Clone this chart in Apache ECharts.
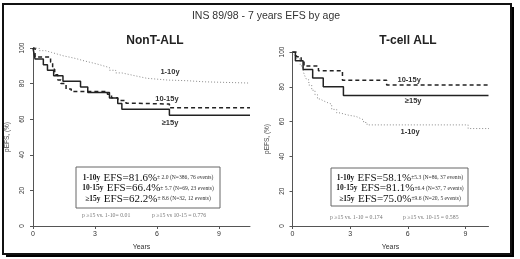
<!DOCTYPE html>
<html><head><meta charset="utf-8">
<script src="https://cdn.jsdelivr.net/npm/echarts@6/dist/echarts.min.js"></script>
<style>html,body{margin:0;padding:0;background:#fff}#c{width:520px;height:259px}</style>
</head><body><div id="c"></div>
<script>
// ---------- data ----------
const xTicks = [0, 3, 6, 9];
const yTicks = [0, 20, 40, 60, 80, 100];
const groups = ['1-10y', '10-15y', '≥15y'];

// NonT-ALL
const nonT_1_10_t = [0, 0.3, 0.6, 0.9, 1.2, 1.5, 1.8, 2.1, 2.4, 2.75, 3.1, 3.4, 3.7, 4.0, 4.3, 4.7, 5.1, 5.5, 6.0, 6.5, 7.5, 8.3, 10.5];
const nonT_1_10_v = [100, 98.5, 97.5, 96.5, 95.5, 94.8, 94, 93, 92, 91, 90, 89, 87.5, 86, 85, 84, 83, 82.5, 82, 81.6, 81, 80.3, 80.3];
const nonT_10_15_t = [0, 0.1, 0.85, 0.95, 1.05, 1.2, 1.35, 1.6, 1.85, 3.6, 3.8, 4.1, 4.5, 4.8, 6.6, 10.5];
const nonT_10_15_v = [100, 95, 92, 88, 85, 82, 80, 77, 75.5, 74, 72, 70.5, 69, 68.5, 66.4, 66.4];
const nonT_15_t = [0, 0.05, 0.1, 0.5, 0.7, 1.0, 1.45, 2.3, 2.65, 3.7, 4.1, 4.3, 6.6, 10.5];
const nonT_15_v = [100, 96.9, 93.8, 90.6, 87.5, 84.4, 81.3, 78.1, 75.0, 71.9, 68.8, 65.6, 62.2, 62.2];

// T-cell ALL
const tc_1_10_t = [0, 0.1, 0.22, 0.4, 0.55, 0.65, 0.74, 0.85, 1.0, 1.17, 1.3, 1.43, 1.6, 1.8, 2.04, 2.3, 2.47, 2.8, 3.0, 3.3, 3.5, 3.7, 3.88, 9.14, 10.3];
const tc_1_10_v = [100, 98, 96, 92, 89, 86, 84, 81, 78, 75.5, 73, 72, 71, 70, 67, 65, 64, 63.5, 63, 62, 61, 59.5, 58.1, 56, 56];
const tc_10_15_t = [0, 0.2, 0.45, 0.6, 1.35, 2.6, 4.9, 10.2];
const tc_10_15_v = [100, 97.3, 94.6, 91.9, 89.2, 83.8, 81.1, 81.1];
const tc_15_t = [0, 0.15, 0.55, 1.05, 1.6, 2.65, 10.2];
const tc_15_v = [100, 95, 90, 85, 80, 75, 75];

const boxLeft = [
  ['1-10y', 'EFS=81.6%', '± 2.0 (N=386, 76 events)'],
  ['10-15y', 'EFS=66.4%', '± 5.7 (N=69, 23 events)'],
  ['≥15y', 'EFS=62.2%', '± 8.6 (N=32, 12 events)']
];
const boxRight = [
  ['1-10y', 'EFS=58.1%', '±5.3 (N=86, 37 events)'],
  ['10-15y', 'EFS=81.1%', '±6.4 (N=37, 7 events)'],
  ['≥15y', 'EFS=75.0%', '±9.6 (N=20, 5 events)']
];
const pLeft = ['p ≥15 vs. 1-10= 0.01', 'p ≥15 vs 10-15 = 0.776'];
const pRight = ['p ≥15 vs. 1-10 = 0.174', 'p ≥15 vs. 10-15 = 0.585'];

// ---------- chart ----------
const zip = (t, v) => t.map((x, i) => [x, v[i]]);
const SANS = '"Liberation Sans", Arial, sans-serif';
const SERIF = '"Liberation Serif", "Times New Roman", serif';

const styles = [
  {type: [1, 2], width: 1, color: '#8a8a8a'},
  {type: [4, 3], width: 1.5, color: '#222'},
  {type: 'solid', width: 1.5, color: '#222'}
];

function curve(gi, t, v, si, lab) {
  return {
    type: 'line', xAxisIndex: gi, yAxisIndex: gi, step: 'end', symbol: 'none',
    data: zip(t, v), lineStyle: styles[si], z: 3,
    markPoint: {
      symbol: 'rect', symbolSize: 1, itemStyle: {color: 'rgba(0,0,0,0)'},
      data: [{coord: lab, value: groups[si]}],
      label: {show: true, position: 'inside', formatter: groups[si], fontFamily: SANS,
        fontWeight: 'bold', fontSize: 7.5, color: '#333'}
    }
  };
}

function xAx(gi, max) {
  return {
    type: 'value', gridIndex: gi, min: 0, max: max, interval: 3,
    name: 'Years', nameLocation: 'middle', nameGap: 18,
    nameTextStyle: {fontFamily: SANS, fontSize: 7, color: '#333'},
    axisLine: {show: true, lineStyle: {color: '#555', width: 1}},
    axisTick: {show: true, length: 3, customValues: xTicks, lineStyle: {color: '#555'}},
    axisLabel: {customValues: xTicks, margin: 5, fontFamily: SANS, fontSize: 7, color: '#333'},
    splitLine: {show: false}
  };
}
function yAx(gi, gap) {
  return {
    type: 'value', gridIndex: gi, min: 0, max: 100, interval: 20,
    name: 'pEFS, (%)', nameLocation: 'middle', nameGap: gap,
    nameTextStyle: {fontFamily: SANS, fontSize: 6.5, color: '#444'},
    axisLine: {show: true, lineStyle: {color: '#555', width: 1}},
    axisTick: {show: true, length: 3, lineStyle: {color: '#555'}},
    axisLabel: {rotate: 90, margin: 7, fontFamily: SANS, fontSize: 6.5, color: '#333',
      formatter: v => yTicks.includes(v) ? String(v) : ''},
    splitLine: {show: false}
  };
}

function boxText(lines, cx, y0, dy) {
  return lines.map((l, i) => ({
    type: 'text', z: 20,
    style: {
      x: cx, y: y0 + i * dy, textAlign: 'center', textVerticalAlign: 'middle',
      text: '{a|' + l[0] + '} {b|' + l[1] + '}{c|' + l[2] + '}',
      rich: {
        a: {fontFamily: SERIF, fontWeight: 'bold', fontSize: 7.5, fill: '#111', color: '#111'},
        b: {fontFamily: SERIF, fontSize: 11, fill: '#111', color: '#111'},
        c: {fontFamily: SERIF, fontSize: 5.6, fill: '#333', color: '#333'}
      }
    }
  }));
}
function smallText(txt, x, y) {
  return {type: 'text', z: 20, style: {x: x, y: y, text: txt, textAlign: 'left', textVerticalAlign: 'middle',
    font: '5.8px ' + SERIF, fill: '#777'}};
}

const chart = echarts.init(document.getElementById('c'), null, {renderer: 'canvas'});
chart.setOption({
  backgroundColor: '#fff',
  animation: false,
  grid: [
    {left: 33, top: 48, width: 217, height: 178},
    {left: 292.5, top: 52, width: 196, height: 174}
  ],
  xAxis: [xAx(0, 10.5), xAx(1, 10.2)],
  yAxis: [yAx(0, 22), yAx(1, 21.5)],
  series: [
    curve(0, nonT_1_10_t, nonT_1_10_v, 0, [6.63, 86.5]),
    curve(0, nonT_10_15_t, nonT_10_15_v, 1, [6.48, 71.3]),
    curve(0, nonT_15_t, nonT_15_v, 2, [6.63, 57.9]),
    curve(1, tc_1_10_t, tc_1_10_v, 0, [6.12, 54]),
    curve(1, tc_10_15_t, tc_10_15_v, 1, [6.07, 83.9]),
    curve(1, tc_15_t, tc_15_v, 2, [6.28, 71.8])
  ],
  graphic: [
    {type: 'rect', z: -20, shape: {x: 6, y: 7, width: 508, height: 250}, style: {fill: '#000'}},
    {type: 'rect', z: -19, shape: {x: 3, y: 4, width: 508, height: 250}, style: {fill: '#fff', stroke: '#111', lineWidth: 2}},
    {type: 'text', z: 20, style: {x: 266, y: 16, text: 'INS 89/98 - 7 years EFS by age', textAlign: 'center',
      textVerticalAlign: 'middle', font: '10.5px ' + SANS, fill: '#333'}},
    {type: 'text', z: 20, style: {x: 155, y: 41, text: 'NonT-ALL', textAlign: 'center',
      textVerticalAlign: 'middle', font: 'bold 12px ' + SANS, fill: '#222'}},
    {type: 'text', z: 20, style: {x: 408, y: 41, text: 'T-cell ALL', textAlign: 'center',
      textVerticalAlign: 'middle', font: 'bold 12px ' + SANS, fill: '#222'}},
    {type: 'rect', z: 20, shape: {x: 76, y: 167, width: 144, height: 41}, style: {fill: 'none', stroke: '#666', lineWidth: 1}},
    {type: 'rect', z: 20, shape: {x: 331, y: 168, width: 137, height: 38}, style: {fill: 'none', stroke: '#666', lineWidth: 1}},
    ...boxText(boxLeft, 148, 178, 10.5),
    ...boxText(boxRight, 400, 178, 10.5),
    smallText(pLeft[0], 82, 215), smallText(pLeft[1], 152, 215),
    smallText(pRight[0], 330, 217), smallText(pRight[1], 403, 217)
  ]
});
</script></body></html>
